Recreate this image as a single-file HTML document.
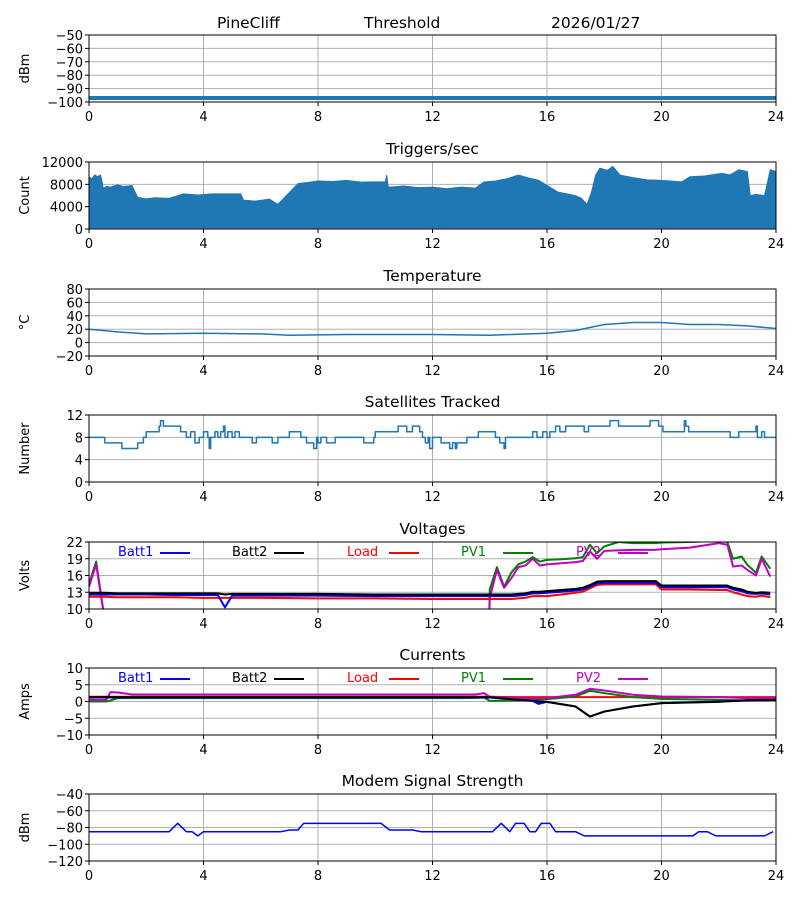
<!DOCTYPE html>
<html><head><meta charset="utf-8"><style>
html,body{margin:0;padding:0;background:#fff;}
svg{display:block;font-family:"DejaVu Sans","Liberation Sans",sans-serif;}
</style></head>
<body>
<svg id="fig" width="800" height="900" viewBox="0 0 800 900" xmlns="http://www.w3.org/2000/svg">
<text x="217" y="28" font-size="15.5">PineCliff</text>
<text x="364" y="28" font-size="15.5">Threshold</text>
<text x="551" y="28" font-size="15.5">2026/01/27</text>
</svg>
<script>
// ---------- data ----------
const hourTicks = [0,4,8,12,16,20,24];
const thresholdHours = [0,24];
const thresholdVals = [-97,-97];
const trigHours = [0,0.1,0.2,0.3,0.4,0.45,0.5,0.6,0.75,1.0,1.2,1.5,1.7,2.0,2.3,2.8,3.3,3.8,4.3,5.3,5.4,5.8,6.3,6.6,6.9,7.3,7.6,8,8.5,9.0,9.5,9.9,10.35,10.4,10.45,10.5,11.0,11.5,12.0,12.5,13.0,13.5,13.8,14.2,14.6,15,15.3,15.7,16.0,16.4,16.7,17,17.2,17.4,17.55,17.7,17.85,18.1,18.3,18.55,19.0,19.5,19.9,20.3,20.7,21,21.5,22.1,22.4,22.7,23,23.1,23.3,23.6,23.8,24];
const trigVals = [9350,9000,9660,9400,9660,8700,7200,7600,7500,7900,7600,7800,5660,5400,5600,5480,6280,6100,6280,6280,5170,5000,5350,4430,6000,8120,8300,8600,8500,8700,8400,8430,8430,9660,7600,7500,7700,7400,7500,7200,7500,7320,8430,8600,9000,9660,9200,8740,7800,6580,6300,5970,5500,4400,6500,9660,10900,10500,11200,9660,9200,8800,8740,8600,8430,9350,9500,9970,9700,10600,10300,5970,6200,5970,10600,10300];
const tempHours = [0,1,2,4,6,7,9,12,14,16,17,18,19,20,21,22,23,24];
const tempVals = [20,16,13,14,13,11,12,12,11,14,18,27,30,30,27,27,25,21];
const satHours = [0,0.55,1.15,1.7,1.9,2.0,2.45,2.5,2.6,3.2,3.4,3.55,3.7,3.85,4.0,4.15,4.2,4.25,4.4,4.5,4.6,4.7,4.75,4.85,5.0,5.1,5.25,5.7,5.85,6.4,6.6,7.0,7.4,7.6,7.85,7.95,8.0,8.1,8.3,8.6,9.6,9.95,10.0,10.8,11.1,11.3,11.55,11.65,11.75,11.85,11.9,12.0,12.3,12.6,12.7,12.8,12.85,13.2,13.6,14.2,14.35,14.5,14.55,15.5,15.65,15.85,16.0,16.1,16.3,16.45,16.65,17.3,17.45,17.6,18.2,18.5,19.6,19.9,20.05,20.8,20.85,20.95,22.4,22.7,23.3,23.35,23.5,23.6,23.7];
const satVals = [8,7,6,7,8,9,10,11,10,9,8,9,7,8,9,8,6,8,9,8,9,10,8,9,8,9,8,7,8,7,8,9,8,7,6,8,7,8,7,8,7,8,9,10,9,10,9,8,7,8,6,8,7,6,7,6,7,8,9,8,7,6,8,9,8,9,8,9,10,9,10,9,10,10,11,10,11,10,9,11,10,9,8,9,10,8,9,8,8];
const voltHours = [0,0.25,0.55,1,2,3,4,4.5,4.75,5,6,8,10,12,13,13.5,13.95,14,14.25,14.5,14.75,15,15.25,15.5,15.75,16,16.5,17,17.25,17.5,17.75,18,18.5,19,19.5,19.8,20,21,22,22.3,22.5,22.8,23,23.3,23.5,23.8];
const batt1V = [12.6,12.6,12.6,12.6,12.6,12.5,12.5,12.5,10.3,12.4,12.4,12.4,12.3,12.3,12.3,12.3,12.3,12.3,12.3,12.3,12.3,12.4,12.5,12.8,12.8,12.9,13.1,13.3,13.5,14.0,14.6,14.7,14.7,14.7,14.7,14.7,13.9,13.9,13.9,13.9,13.5,13.2,12.8,12.7,12.8,12.6];
const batt2V = [12.9,12.9,12.9,12.8,12.8,12.8,12.8,12.8,12.6,12.7,12.7,12.7,12.6,12.6,12.6,12.6,12.6,12.6,12.6,12.6,12.6,12.7,12.8,13.1,13.1,13.2,13.4,13.6,13.8,14.3,14.9,15.0,15.0,15.0,15.0,15.0,14.2,14.2,14.2,14.2,13.8,13.5,13.1,12.9,13.0,12.9];
const loadV = [12.2,12.2,12.2,12.1,12.1,12.1,12.0,12.0,12.0,12.0,12.0,11.9,11.9,11.8,11.8,11.8,11.8,11.8,11.8,11.8,11.8,11.9,12.0,12.3,12.3,12.3,12.6,12.9,13.1,13.7,14.3,14.4,14.4,14.4,14.4,14.4,13.5,13.5,13.4,13.4,13.0,12.6,12.3,12.2,12.4,12.1];
const pv1V = [14.5,18.5,8,0,0,0,0,0,0,0,0,0,0,0,0,0,0,13.5,17.5,14,16.5,18,18.5,19.3,18.5,18.8,18.9,19.1,19.3,21.5,20,21.2,22,21.8,21.8,21.8,21.9,22,22.2,22,19,19.4,17.9,16.5,19.4,17.2];
const pv2V = [14,18,8,0,0,0,0,0,0,0,0,0,0,0,0,0,0,12,17,13.8,15.5,17.5,17.8,19,17.8,18,18.2,18.4,18.6,20.3,19,20.4,20.5,20.6,20.6,20.6,20.7,21,21.8,21.5,17.6,17.8,17,16,19,15.8];
const curHours = [0,0.6,0.75,1,1.5,13,13.5,13.8,14,15,15.5,15.7,16,17,17.5,18,19,20,22,23,24];
const batt1A = [1.2,1.2,1.2,1.2,1.2,1.2,1.2,1.2,1.2,0.5,0.2,-0.7,-0.1,-1.5,-4.5,-3,-1.5,-0.5,0,0.3,0.5];
const batt2A = [1.3,1.3,1.3,1.3,1.3,1.3,1.3,1.3,1.3,0.5,0.3,0,-0.1,-1.5,-4.5,-3,-1.5,-0.5,-0.1,0.4,0.5];
const loadA = [1.4,1.4,1.4,1.4,1.4,1.4,1.4,1.4,1.4,1.3,1.3,1.3,1.3,1.3,1.3,1.3,1.3,1.3,1.3,1.3,1.3];
const pv1A = [0,0,0.3,1.0,1.0,1.0,1.1,1.2,0.2,0.3,0.4,0.5,0.7,1.5,3.2,2.5,1.3,0.8,0.5,0.3,0.3];
const pv2A = [0.5,0.5,2.8,2.7,2.1,2.1,2.1,2.5,1.4,1.0,1.0,1.0,1.0,2.0,3.8,3.3,2.0,1.5,1.3,1.0,1.0];
const modemHours = [0,2.8,3.1,3.4,3.6,3.8,4.0,6.7,7.0,7.3,7.5,10.2,10.5,11.3,11.6,14.1,14.4,14.7,14.9,15.2,15.4,15.6,15.8,16.1,16.3,17.0,17.3,21.1,21.3,21.6,21.9,23.6,23.9];
const modemVals = [-85,-85,-75,-85,-85,-90,-85,-85,-83,-83,-75,-75,-83,-83,-85,-85,-75,-85,-75,-75,-85,-85,-75,-75,-85,-85,-90,-90,-85,-85,-90,-90,-85];
const legendNames = ["Batt1","Batt2","Load","PV1","PV2"];
// ---------- drawing ----------
const svg = document.getElementById('fig');
const NS = 'http://www.w3.org/2000/svg';
const X0 = 89, X1 = 776, H = 67, FS = 13, TS = 15.5;
function el(tag, attrs, parent, name, inter) {
  const e = document.createElementNS(NS, tag);
  for (const k in attrs) e.setAttribute(k, attrs[k]);
  
  
  (parent || svg).appendChild(e);
  return e;
}
const xs = h => X0 + (X1 - X0) * h / 24;
function panel(id, top, ymin, ymax, yticks, title, ylabel) {
  const g = el('g', {}, svg, id + '-panel', false);
  const ys = v => top + H - (v - ymin) / (ymax - ymin) * H;
  const cp = el('clipPath', {id: 'cp-' + id}, g, id + '-clip', false);
  el('rect', {x: X0, y: top, width: X1 - X0, height: H}, cp, id + '-clip-rect', false);
  hourTicks.forEach(h => {
    el('line', {x1: xs(h), x2: xs(h), y1: top, y2: top + H, stroke: '#b0b0b0', 'stroke-width': 1}, g, id + '-x-grid', false);
    el('line', {x1: xs(h), x2: xs(h), y1: top + H, y2: top + H + 4, stroke: '#000', 'stroke-width': 1}, g, id + '-x-tick', false);
    const t = el('text', {x: xs(h), y: top + H + 19, 'font-size': FS, 'text-anchor': 'middle'}, g, id + '-x-tick-label', false);
    t.textContent = h;
  });
  yticks.forEach(v => {
    el('line', {x1: X0, x2: X1, y1: ys(v), y2: ys(v), stroke: '#b0b0b0', 'stroke-width': 1}, g, id + '-y-grid', false);
    el('line', {x1: X0 - 4, x2: X0, y1: ys(v), y2: ys(v), stroke: '#000', 'stroke-width': 1}, g, id + '-y-tick', false);
    const t = el('text', {x: X0 - 6, y: ys(v) + 5, 'font-size': FS, 'text-anchor': 'end'}, g, id + '-y-tick-label', false);
    t.textContent = String(v).replace('-', '\u2212');
  });
  if (title) {
    const t = el('text', {x: (X0 + X1) / 2, y: top - 8, 'font-size': TS, 'text-anchor': 'middle'}, g, id + '-title', false);
    t.textContent = title;
  }
  const yl = el('text', {x: 0, y: 0, 'font-size': FS, 'text-anchor': 'middle', transform: `translate(29,${top + H / 2}) rotate(-90)`}, g, id + '-y-axis-title', false);
  yl.textContent = ylabel;
  const data = el('g', {'clip-path': `url(#cp-${id})`}, g, id + '-plot-area', false);
  return {g, data, ys, top};
}
function frame(p, id) {
  el('rect', {x: X0, y: p.top, width: X1 - X0, height: H, fill: 'none', stroke: '#000', 'stroke-width': 1}, p.g, id + '-frame', false);
}
function line(p, hs, vs, color, w, name, step) {
  let d = '';
  hs.forEach((h, i) => {
    if (step && i > 0) d += `L${xs(h)},${p.ys(vs[i - 1])}`;
    d += (i ? 'L' : 'M') + xs(h) + ',' + p.ys(vs[i]);
  });
  if (step) d += `L${xs(24)},${p.ys(vs[vs.length - 1])}`;
  el('path', {d, fill: 'none', stroke: color, 'stroke-width': w, 'stroke-linejoin': 'round'}, p.data, name, false);
}
function legend(p, colors, id) {
  const lx = [118, 232, 347, 461, 576];
  legendNames.forEach((n, i) => {
    const t = el('text', {x: lx[i], y: p.top + 14, 'font-size': FS, fill: colors[i]}, p.g, id + '-legend-label', false);
    t.textContent = n;
    el('line', {x1: lx[i] + 42, x2: lx[i] + 72, y1: p.top + 11, y2: p.top + 11, stroke: colors[i], 'stroke-width': 2}, p.g, id + '-legend-swatch', false);
  });
}
const blue = '#1f77b4';
let p = panel('threshold', 35, -100, -50, [-50,-60,-70,-80,-90,-100], null, 'dBm');
line(p, thresholdHours, thresholdVals, blue, 4, 'threshold-line');
frame(p, 'threshold');
p = panel('triggers', 162, 0, 12000, [0,4000,8000,12000], 'Triggers/sec', 'Count');
{
  let d = `M${xs(trigHours[0])},${p.ys(200)}`;
  trigHours.forEach((h, i) => { d += `L${xs(h)},${p.ys(trigVals[i])}`; });
  d += `L${xs(24)},${p.ys(200)}Z`;
  el('path', {d, fill: blue, stroke: blue, 'stroke-width': 1}, p.data, 'triggers-area', false);
}
frame(p, 'triggers');
p = panel('temperature', 289, -20, 80, [-20,0,20,40,60,80], 'Temperature', '\u00b0C');
line(p, tempHours, tempVals, blue, 1.5, 'temperature-line');
frame(p, 'temperature');
p = panel('satellites', 415, 0, 12, [0,4,8,12], 'Satellites Tracked', 'Number');
line(p, satHours, satVals, blue, 1.5, 'satellites-line', true);
frame(p, 'satellites');
p = panel('voltages', 542, 10, 22, [10,13,16,19,22], 'Voltages', 'Volts');
line(p, voltHours, pv1V, 'green', 2, 'pv1-voltage-line');
line(p, voltHours, pv2V, '#c000c0', 2, 'pv2-voltage-line');
line(p, voltHours, loadV, 'red', 2, 'load-voltage-line');
line(p, voltHours, batt1V, 'blue', 2, 'batt1-voltage-line');
line(p, voltHours, batt2V, 'black', 2, 'batt2-voltage-line');
legend(p, ['blue','black','red','green','#c000c0'], 'voltages');
frame(p, 'voltages');
p = panel('currents', 668, -10, 10, [-10,-5,0,5,10], 'Currents', 'Amps');
line(p, curHours, loadA, 'red', 2, 'load-current-line');
line(p, curHours, pv1A, 'green', 2, 'pv1-current-line');
line(p, curHours, pv2A, '#c000c0', 2, 'pv2-current-line');
line(p, curHours, batt1A, 'blue', 2, 'batt1-current-line');
line(p, curHours, batt2A, 'black', 2, 'batt2-current-line');
legend(p, ['blue','black','red','green','#c000c0'], 'currents');
frame(p, 'currents');
p = panel('modem', 794, -120, -40, [-120,-100,-80,-60,-40], 'Modem Signal Strength', 'dBm');
line(p, modemHours, modemVals, 'blue', 1.5, 'modem-signal-line');
frame(p, 'modem');
</script>
</body></html>
